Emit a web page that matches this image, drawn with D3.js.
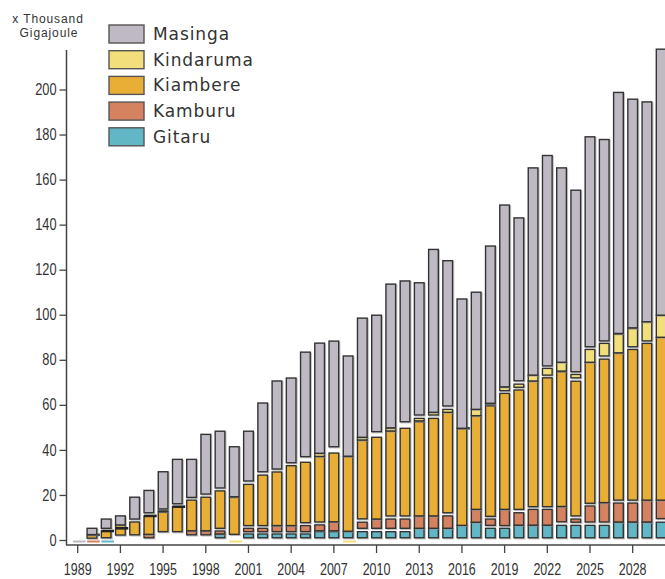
<!DOCTYPE html>
<html>
<head>
<meta charset="utf-8">
<script src="https://cdn.jsdelivr.net/npm/d3@7"></script>
<style>
  body { margin: 0; background: #fff; }
  svg { display: block; }
  .axis text { font-family: 'Liberation Sans', Arial, sans-serif; font-size: 16px; fill: #333; }
  .axis line { stroke: #444; stroke-width: 1.3; }
</style>
</head>
<body>
<svg id="chart" width="665" height="579"></svg>
<script>
const years = d3.range(1989, 2031);
const xTickYears = d3.range(1989, 2029, 3);
const yTicks = d3.range(0, 201, 20);

// visible segment of each bar, [from, to] in thousand GJ; null = no segment
const gitaru = [
  null, null, [0, 0], null, null, null, null, null, null, null,
  [1, 2.6], null, [1, 2.7], [1, 2.7], [1, 2.7], [1, 2.7], [1, 2.7], [1, 3.7], [1, 3.7], [1, 3.7],
  [1, 3.7], [1, 3.7], [1, 3.7], [1, 3.7], [1, 5.2], [1, 5.2], [1, 5.2], [1, 6.5], [1, 7.9], [1, 5.2],
  [1, 5.2], [1, 6.5], [1, 6.5], [1, 6.5], [1, 6.5], [1, 6.5], [1, 6.5], [1, 6.5], [1, 7.9], [1, 7.9],
  [1, 7.9], [1, 7.9]
];
const kamburu = [
  null, [0, 0], null, null, null, [1, 2.5], null, null, [2.3, 4.1], [2.3, 4],
  [2.7, 4], null, [3.7, 5.2], [3.7, 5.2], [3.7, 6.4], [3.7, 6.4], [3.7, 6.4], [4.1, 6.7], [4.1, 8], null,
  [5.2, 7.9], [5.2, 9.3], [5.2, 9.3], [5.2, 9.3], [5.2, 10.7], [5.2, 10.7], [5.2, 10.7], null, [7.9, 13.6], [6.5, 9.3],
  [6.4, 13.6], [6.6, 12.1], [6.6, 13.6], [6.6, 13.6], [8.1, 14.8], [7.9, 9.3], [8, 15.1], [8, 16.6], [8, 16.4], [8, 16.4],
  [8, 17.7], [9.5, 17.7]
];
const kiambere = [
  null, [0.8, 2.2], [1, 4], [2.2, 6.7], [2.3, 8], [2.5, 10.7], [3.7, 12.3], [3.7, 14.8], [4.1, 17.7], [4.1, 19],
  [5.2, 21.8], [2.5, 18.9], [6.4, 24.7], [6.4, 28.8], [6.4, 30.2], [6.4, 33], [7.7, 34.5], [8, 37.1], [8.1, 38.6], [3.9, 37],
  [9.4, 44.4], [9.3, 45.6], [10.7, 48.4], [10.7, 49.6], [10.7, 52.5], [10.7, 54], [12.1, 56.7], [6.5, 49.6], [13.6, 55.2], [10.5, 59.5],
  [13.6, 65.1], [13.6, 66.6], [14.8, 70.6], [14.8, 72], [14.9, 74.7], [10.7, 70.5], [16.3, 78.9], [16.6, 80.3], [17.7, 83.1], [17.7, 84.6],
  [17.7, 87.3], [17.7, 90]
];
const kindaruma = [
  null, [2.3, 2.3], [4, 4], [5.2, 5.2], null, [10.7, 10.7], [12.6, 13.2], [14.8, 14.8], null, null,
  null, [0, 0], null, null, null, null, null, [37.1, 38.5], null, [0, 0],
  [44.4, 45.6], null, [48.4, 49.6], null, [52.9, 54], [55.5, 56.7], [56.7, 58], [49.6, 49.6], [55.2, 58], [60, 60.3],
  [66.3, 67.8], [67.8, 69.2], [70.6, 73.2], [73.2, 76.2], [75, 78.9], [72, 73.5], [78.9, 84.6], [81.7, 87.3], [83.1, 91.3], [85.8, 93.9],
  [88.4, 96.9], [90, 99.8]
];
const masinga = [
  [0, 0], [2.4, 5.2], [5.2, 9.3], [6.7, 10.7], [9.3, 19], [12.1, 22], [13.8, 30.3], [16.1, 35.8], [18.9, 35.8], [20.4, 46.9],
  [23.1, 48.3], [19.2, 41.4], [26.2, 48.3], [30.3, 60.8], [31.5, 70.6], [34.3, 71.9], [37, 83.4], [38.5, 87.4], [41.4, 88.3], [37.2, 81.7],
  [45.6, 98.5], [48.1, 99.8], [49.8, 113.6], [52.5, 115], [55.5, 114.2], [56.7, 129], [59.5, 124], [49.6, 107], [58, 110], [60.7, 130.5],
  [68, 148.7], [70.7, 143], [73.2, 165.2], [77.3, 170.7], [78.9, 165.2], [74.7, 155.3], [85.8, 179], [88.4, 177.8], [91.7, 198.7], [94.2, 195.7],
  [96.9, 194.5], [99.8, 217.9]
];

// bottom to top drawing order
const series = [
  { name: 'Gitaru', color: '#62b7c6', values: gitaru },
  { name: 'Kamburu', color: '#d4825f', values: kamburu },
  { name: 'Kiambere', color: '#e8ae35', values: kiambere },
  { name: 'Kindaruma', color: '#f2df7c', values: kindaruma },
  { name: 'Masinga', color: '#bfb9c3', values: masinga }
];

const svg = d3.select('#chart');

const x = d3.scaleBand()
  .domain(years)
  .range([70.6, 70.6 + years.length * 14.23])
  .paddingInner(0.32)
  .paddingOuter(0.16);

const y = d3.scaleLinear()
  .domain([0, 200])
  .range([540, 89.5]);

// bars
const bars = svg.append('g').attr('class', 'bars');
series.forEach(s => {
  const segs = s.values
    .map((v, i) => v && { year: years[i], lo: v[0], hi: v[1] })
    .filter(d => d);
  const g = bars.append('g').attr('class', s.name.toLowerCase());

  const boxes = segs.filter(d => d.hi > d.lo);
  // soft shadow to the lower right
  g.selectAll('rect.shadow')
    .data(boxes)
    .join('rect')
    .attr('class', 'shadow')
    .attr('x', d => x(d.year) + 1)
    .attr('y', d => y(d.hi) + 1)
    .attr('width', x.bandwidth())
    .attr('height', d => y(d.lo) - y(d.hi))
    .attr('fill', 'none')
    .attr('stroke', '#999')
    .attr('stroke-opacity', 0.6)
    .attr('stroke-width', 1.4);
  g.selectAll('rect.seg')
    .data(boxes)
    .join('rect')
    .attr('class', 'seg')
    .attr('x', d => x(d.year))
    .attr('y', d => y(d.hi))
    .attr('width', x.bandwidth())
    .attr('height', d => y(d.lo) - y(d.hi))
    .attr('fill', s.color)
    .attr('stroke', '#333')
    .attr('stroke-width', 1.4);

  // zero-sized entries show as flat lines
  const flats = segs.filter(d => d.hi === d.lo);
  g.selectAll('line.flat')
    .data(flats)
    .join('line')
    .attr('class', 'flat')
    .attr('x1', d => x(d.year))
    .attr('x2', d => x(d.year) + x.bandwidth() + 3)
    .attr('y1', d => d.lo === 0 ? y(0) + 1.5 : y(d.lo))
    .attr('y2', d => d.lo === 0 ? y(0) + 1.5 : y(d.lo))
    .attr('stroke', d => d.lo === 0 ? s.color : '#222')
    .attr('stroke-width', d => d.lo === 0 ? 2 : 2.6);
});

// y axis
const yAxis = svg.append('g')
  .attr('class', 'axis')
  .attr('transform', 'translate(66.5,0)')
  .call(d3.axisLeft(y).tickValues(yTicks).tickSize(7).tickPadding(3));
yAxis.select('.domain').remove();
// narrow figures, as in the original
yAxis.selectAll('.tick text')
  .attr('x', -12.5)
  .attr('transform', 'scale(0.8,1)');
svg.append('line')
  .attr('x1', 66.5).attr('x2', 66.5)
  .attr('y1', y(217.5)).attr('y2', 545)
  .attr('stroke', '#444').attr('stroke-width', 1.5);

// x axis
const xAxis = svg.append('g')
  .attr('class', 'axis')
  .attr('transform', 'translate(0,545)')
  .call(d3.axisBottom(x).tickValues(xTickYears).tickSize(8).tickPadding(11));
xAxis.select('.domain').remove();
xAxis.selectAll('.tick text')
  .attr('transform', 'scale(0.78,1)');
svg.append('line')
  .attr('x1', 66).attr('x2', 665)
  .attr('y1', 545).attr('y2', 545)
  .attr('stroke', '#444').attr('stroke-width', 1.5);

// unit label
const unit = svg.append('text')
  .attr('text-anchor', 'middle')
  .style('font-family', "'Liberation Sans', Arial, sans-serif")
  .style('font-size', '12px')
  .style('letter-spacing', '0.9px')
  .attr('fill', '#333');
unit.append('tspan').attr('x', 48).attr('y', 23).text('x Thousand');
unit.append('tspan').attr('x', 49).attr('y', 37).text('Gigajoule');

// legend, top to bottom
const legend = svg.append('g')
  .attr('transform', 'translate(109,25)')
  .selectAll('g')
  .data(series.slice().reverse())
  .join('g')
  .attr('transform', (d, i) => `translate(0,${i * 25.7})`);
legend.append('rect')
  .attr('width', 35)
  .attr('height', 18)
  .attr('fill', d => d.color)
  .attr('stroke', '#555')
  .attr('stroke-width', 1.4);
legend.append('text')
  .attr('x', 44)
  .attr('y', 15)
  .style('font-family', "'DejaVu Sans', Verdana, sans-serif")
  .style('font-size', '17px')
  .style('letter-spacing', '0.9px')
  .attr('fill', '#333')
  .text(d => d.name);
</script>
</body>
</html>
